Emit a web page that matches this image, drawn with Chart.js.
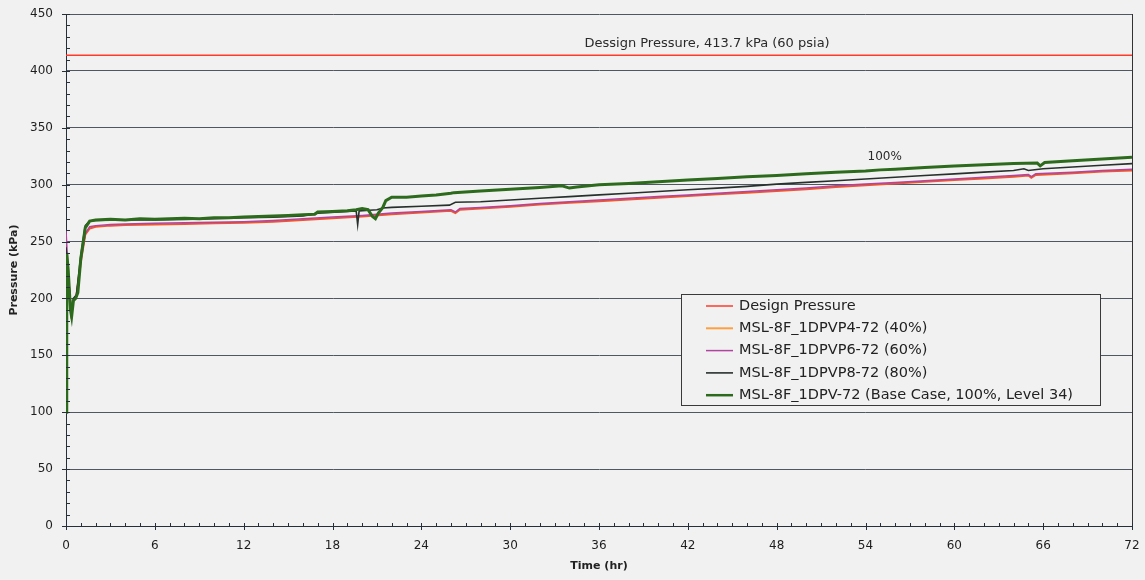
<!DOCTYPE html>
<html><head><meta charset="utf-8">
<script src="https://cdn.jsdelivr.net/npm/chart.js@4/dist/chart.umd.min.js"></script>
<style>html,body{margin:0;padding:0;background:#f1f1f1;}canvas{display:block;}</style>
</head><body>
<canvas id="c" width="1145" height="580"></canvas>
<script>
// ---- data ----
const designValue = 413.7;
const designTimes = [0, 72];
const designValues = [designValue, designValue];

const t40 = [0,0.15,0.35,0.5,0.7,1.0,1.3,1.6,2,3,4,6,8,10,12,14,16,18,20,22,24,26,26.3,26.6,28,30,32,34,36,38,40,42,44,46,48,50,52,54,56,58,60,62,64,65,65.2,65.5,68,70,72];
const p40 = [238,220,188,198,202,232,256,261.5,263,264,264.5,265,265.5,266,266.5,267.5,269,270.5,272,274,275.5,277,275,278,279,280.5,282.5,284,285.5,287,288.5,290,291.5,293,294.5,296,298,299.5,301,302.5,304,305.5,307,308,306,308.5,310,311.5,312.5];

const t60 = [0,0.15,0.35,0.5,0.7,1.0,1.3,1.6,2,3,4,6,8,10,12,14,16,18,20,22,24,26,26.3,26.6,28,30,32,34,36,38,40,42,44,46,48,50,52,54,56,58,60,62,64,65,65.2,65.5,68,70,72];
const p60 = [260,222,189,199,203,233,257,263,264,265,265.5,266,266.5,267,267.5,268.5,270,271.5,273,275,276.5,278,276,279,280,281.5,283.5,285,286.5,288,289.5,291,292.5,294,295.5,297,299,300.5,302,303.5,305,306.5,308,309,307,309.5,311,312.5,313.5];

const t80 = [0,0.15,0.35,0.5,0.7,1.0,1.3,1.6,2,4,6,8,10,12,14,16,17,19,19.6,19.7,19.8,20.5,21,21.4,22,24,25.9,26.3,28,30,32,34,36,38,40,42,44,46,48,50,52,54,56,58,60,62,64,64.7,65,66,68,70,72];
const p80 = [245,222,188,200,203,238,264,268,268.5,269,269,269.5,270,271,271.5,272.5,275,276.5,277,265,277,277.5,278,279.5,280,281,282,284.5,285,286.5,288,289.5,291,292.5,294,295.5,297,298.5,300.5,302,303.5,305,306.5,308,309.5,311,312.5,314,312.5,314,315.5,317,318.5];

const t100 = [0,0.05,0.15,0.3,0.38,0.5,0.65,0.8,1.0,1.3,1.6,2,3,4,5,6,7,8,9,10,11,12,13,14,15,16,16.8,17,18,19,19.6,20,20.4,20.7,20.9,21.1,21.4,21.6,22,23,24,25,26,26.2,28,30,32,33.5,34,34.5,36,38,40,42,44,46,48,50,52,54,55,56,58,60,62,64,65.6,65.8,66.1,68,70,72];
const p100 = [100,240,225,190,184,198,200,205,235,262,268,269,269.5,269,270,269.5,270,270.5,270,271,271,271.5,272,272.5,273,273.5,274,276,276.5,277,278,279,278,272,270,275,280,286,289,289,290,291,292.5,293,294.5,296,297.5,299,297,298,300,301,302.5,304,305.5,307,308,309.5,311,312,313,313.5,315,316.5,317.5,318.5,319,316.5,319.5,321,322.5,324];

const seriesLabels = ['Design Pressure','MSL-8F_1DPVP4-72 (40%)','MSL-8F_1DPVP6-72 (60%)','MSL-8F_1DPVP8-72 (80%)','MSL-8F_1DPV-72 (Base Case, 100%, Level 34)'];
const xTickLabels = [0,6,12,18,24,30,36,42,48,54,60,66,72];
const yTickLabels = [0,50,100,150,200,250,300,350,400,450];
const designLabel = 'Dessign Pressure, 413.7 kPa (60 psia)';
const curveLabel = '100%';

const pts = (ts, vs) => ts.map((t, i) => ({x: t, y: vs[i]}));

const FONT = 'DejaVu Sans, Liberation Sans, sans-serif';

const decor = {
  id: 'decor',
  afterDraw(chart) {
    const ctx = chart.ctx, xs = chart.scales.x, ys = chart.scales.y, a = chart.chartArea;
    ctx.save();
    ctx.strokeStyle = '#26303a'; ctx.lineWidth = 1;
    ctx.beginPath();
    for (let v = 0; v <= 72; v++) {
      const px = Math.round(xs.getPixelForValue(v)) + 0.5;
      if (v % 6 === 0) { ctx.moveTo(px, a.bottom - 3); ctx.lineTo(px, a.bottom + 4); }
      else { ctx.moveTo(px, a.bottom - 3); ctx.lineTo(px, a.bottom); }
    }
    for (let v = 0; v <= 450; v += 10) {
      const py = Math.round(ys.getPixelForValue(v)) + 0.5;
      if (v % 50 === 0) { ctx.moveTo(a.left - 4, py); ctx.lineTo(a.left + 4, py); }
      else { ctx.moveTo(a.left, py); ctx.lineTo(a.left + 4, py); }
    }
    ctx.stroke();

    // annotations
    ctx.fillStyle = '#2a2a2a';
    ctx.textAlign = 'center'; ctx.textBaseline = 'middle';
    ctx.font = '13px ' + FONT;
    ctx.fillText(designLabel, xs.getPixelForValue(43.3), ys.getPixelForValue(424));
    ctx.font = '12px ' + FONT;
    ctx.fillText(curveLabel, xs.getPixelForValue(55.3), ys.getPixelForValue(324));

    // legend box
    const bx = 681, by = 294, bw = 419, bh = 111;
    ctx.fillStyle = '#f1f1f1';
    ctx.fillRect(bx, by, bw, bh);
    ctx.strokeStyle = '#3a3a3a'; ctx.lineWidth = 1;
    ctx.strokeRect(bx + 0.5, by + 0.5, bw, bh);
    ctx.font = '14.5px ' + FONT;
    ctx.textAlign = 'left';
    chart.data.datasets.forEach((ds, i) => {
      const cy = by + 12 + i * 22.3;
      ctx.strokeStyle = ds.legendColor || ds.borderColor;
      ctx.lineWidth = Math.min(ds.borderWidth, 2.5);
      ctx.beginPath(); ctx.moveTo(706, cy); ctx.lineTo(733, cy); ctx.stroke();
      ctx.fillStyle = '#222';
      ctx.fillText(ds.label, 739, cy);
    });
    ctx.restore();
  }
};

const zeroPad = s => { s.paddingTop = 0; s.paddingBottom = 0; s.paddingLeft = 0; s.paddingRight = 0; };

new Chart(document.getElementById('c'), {
  type: 'line',
  data: {
    datasets: [
      {label: seriesLabels[0], data: pts(designTimes, designValues), borderColor: '#ff3a2a', borderWidth: 1.5, order: 4},
      {label: seriesLabels[1], data: pts(t40, p40), borderColor: '#f0562a', legendColor: '#ffa040', borderWidth: 2, order: 3},
      {label: seriesLabels[2], data: pts(t60, p60), borderColor: '#b0449e', borderWidth: 1.5, order: 2},
      {label: seriesLabels[3], data: pts(t80, p80), borderColor: '#28302e', borderWidth: 1.6, order: 1},
      {label: seriesLabels[4], data: pts(t100, p100), borderColor: '#2c6a1c', borderWidth: 3, order: 0}
    ]
  },
  options: {
    responsive: false, animation: false, devicePixelRatio: 1,
    elements: {point: {radius: 0}, line: {tension: 0}},
    layout: {padding: {left: 0, right: 13, top: 14, bottom: 0}},
    plugins: {legend: {display: false}, tooltip: {enabled: false}},
    scales: {
      x: {
        type: 'linear', min: 0, max: 72,
        afterFit: s => { s.height = 54; zeroPad(s); },
        afterBuildTicks: s => { s.ticks = xTickLabels.map(v => ({value: v})); },
        ticks: {color: '#1e1e1e', font: {family: FONT, size: 12}, padding: 13, maxRotation: 0, autoSkip: false},
        grid: {drawTicks: false, color: c => (c.tick && c.tick.value === 72) ? '#333' : 'rgba(0,0,0,0)'},
        border: {display: true, color: '#26303a', width: 1},
        title: {display: true, text: 'Time (hr)', color: '#222', font: {family: FONT, size: 11, weight: 'bold'}, padding: {top: 4, bottom: 7}}
      },
      y: {
        type: 'linear', min: 0, max: 450,
        afterFit: s => { s.width = 66; zeroPad(s); },
        afterBuildTicks: s => { s.ticks = yTickLabels.map(v => ({value: v})); },
        ticks: {color: '#1e1e1e', font: {family: FONT, size: 12}, padding: 13},
        grid: {drawTicks: false, color: '#4f5762', lineWidth: 1},
        border: {display: true, color: '#26303a', width: 1},
        title: {display: true, text: 'Pressure (kPa)', color: '#222', font: {family: FONT, size: 11, weight: 'bold'}, padding: {top: 8, bottom: 4}}
      }
    }
  },
  plugins: [decor]
});
</script>
</body></html>
